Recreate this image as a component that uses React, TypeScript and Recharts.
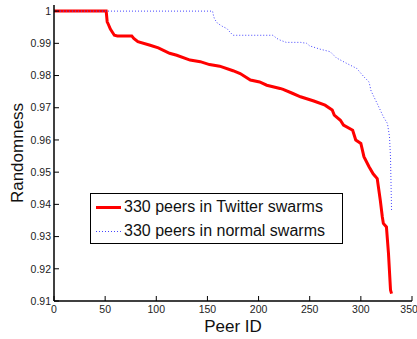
import React from "react";
import { LineChart, Line, XAxis, YAxis, Legend } from "recharts";

const twitterX = [0, 51, 52, 53, 55, 56, 59, 62, 76, 78, 82, 94, 102, 113, 120, 133, 143, 152, 162, 175, 182, 192, 201, 208, 221, 224, 233, 241, 254, 265, 272, 274, 280, 283, 292, 295, 300, 303, 308, 312, 316, 319, 321, 322, 325, 327, 329, 330];
const twitterY = [1, 1, 0.9967, 0.996, 0.9945, 0.994, 0.9925, 0.9923, 0.9923, 0.9915, 0.9905, 0.9894, 0.9886, 0.9869, 0.9863, 0.9848, 0.9843, 0.9834, 0.9829, 0.9815, 0.9806, 0.9786, 0.978, 0.977, 0.976, 0.9757, 0.9745, 0.9734, 0.9721, 0.9708, 0.9693, 0.9677, 0.9661, 0.9646, 0.963, 0.96, 0.9589, 0.9548, 0.9517, 0.9495, 0.948, 0.9413, 0.9361, 0.9341, 0.933, 0.9248, 0.9134, 0.9123];

const normalX = [0, 155, 156, 157, 160, 165, 169, 172, 175, 214, 218, 221, 227, 241, 247, 250, 260, 270, 276, 286, 296, 303, 308, 310, 316, 322, 326, 328, 329, 330];
const normalY = [1, 1, 0.9985, 0.9975, 0.9962, 0.9952, 0.9946, 0.9935, 0.9925, 0.9925, 0.9915, 0.991, 0.9903, 0.9903, 0.99, 0.9892, 0.9882, 0.9874, 0.9855, 0.9838, 0.9822, 0.9796, 0.978, 0.9752, 0.9713, 0.9672, 0.9651, 0.961, 0.9545, 0.9382];

const xTicks = [0, 50, 100, 150, 200, 250, 300, 350];
const yTicks = [0.91, 0.92, 0.93, 0.94, 0.95, 0.96, 0.97, 0.98, 0.99, 1];

const seriesNames = ["330 peers in Twitter swarms", "330 peers in normal swarms"];

const twitterData = twitterX.map((x, i) => ({ x, y: twitterY[i] }));
const normalData = normalX.map((x, i) => ({ x, y: normalY[i] }));

const FONT = "'Liberation Sans', Arial, sans-serif";
const tickStyle = { fontSize: 10.5, fill: "#222", fontFamily: FONT };

const LegendBox = () => (
  <div
    style={{
      border: "1px solid #000",
      background: "#fff",
      width: 251,
      height: 49,
      fontFamily: FONT,
      fontSize: 16,
      color: "#111",
      boxSizing: "content-box",
    }}
  >
    <div style={{ display: "flex", alignItems: "center", height: 24, marginTop: 1 }}>
      <svg width={33} height={24} style={{ display: "block" }}>
        <line x1={5} x2={30} y1={12.5} y2={12.5} stroke="#ff0000" strokeWidth={3} />
      </svg>
      <span style={{ whiteSpace: "nowrap" }}>{seriesNames[0]}</span>
    </div>
    <div style={{ display: "flex", alignItems: "center", height: 24 }}>
      <svg width={33} height={24} style={{ display: "block" }}>
        <line x1={5} x2={30} y1={12.5} y2={12.5} stroke="#4444ff" strokeWidth={1} strokeDasharray="1 2" />
      </svg>
      <span style={{ whiteSpace: "nowrap" }}>{seriesNames[1]}</span>
    </div>
  </div>
);

export default function App() {
  return (
    <div style={{ position: "absolute", left: 0, top: 0, width: 417, height: 339, background: "#fff", overflow: "hidden" }}>
      <LineChart width={417} height={339} margin={{ top: 5, right: 5, bottom: 0, left: 0 }}>
        <XAxis
          xAxisId="b"
          type="number"
          dataKey="x"
          domain={[0, 350]}
          ticks={xTicks}
          allowDataOverflow
          height={38}
          tick={tickStyle}
          tickSize={-5}
          tickMargin={10}
          axisLine={{ stroke: "#000", strokeWidth: 1.5 }}
          tickLine={{ stroke: "#000" }}
          label={{ value: "Peer ID", position: "insideBottom", offset: 7, fontSize: 17, fill: "#111", fontFamily: FONT }}
        />
        <XAxis
          xAxisId="t"
          orientation="top"
          type="number"
          dataKey="x"
          domain={[0, 350]}
          ticks={xTicks}
          allowDataOverflow
          height={0}
          tick={false}
          tickSize={-5}
          axisLine={{ stroke: "#000", strokeWidth: 1.5 }}
          tickLine={{ stroke: "#000" }}
        />
        <YAxis
          yAxisId="l"
          type="number"
          dataKey="y"
          domain={[0.91, 1.0019]}
          ticks={yTicks}
          allowDataOverflow
          width={54}
          tick={tickStyle}
          tickSize={-5}
          tickMargin={8}
          tickFormatter={(v: number) => (v === 1 ? "1" : v.toFixed(2))}
          axisLine={{ stroke: "#000", strokeWidth: 1.5 }}
          tickLine={{ stroke: "#000" }}
          label={{ value: "Randomness", angle: -90, position: "center", dx: -10.5, fontSize: 17, fill: "#111", fontFamily: FONT }}
        />
        <YAxis
          yAxisId="r"
          orientation="right"
          type="number"
          dataKey="y"
          domain={[0.91, 1.0019]}
          ticks={yTicks}
          allowDataOverflow
          width={0}
          tick={false}
          tickSize={-5}
          axisLine={{ stroke: "#000", strokeWidth: 1.5 }}
          tickLine={{ stroke: "#000" }}
        />
        <Legend
          layout="horizontal"
          verticalAlign="middle"
          align="center"
          content={() => <LegendBox />}
          wrapperStyle={{ position: "absolute", left: 90, top: 193, width: "auto", height: "auto" }}
        />
        <Line
          xAxisId="b"
          yAxisId="l"
          data={twitterData}
          dataKey="y"
          name={seriesNames[0]}
          type="linear"
          stroke="#ff0000"
          strokeWidth={3}
          dot={false}
          activeDot={false}
          isAnimationActive={false}
        />
        <Line
          xAxisId="b"
          yAxisId="l"
          data={normalData}
          dataKey="y"
          name={seriesNames[1]}
          type="linear"
          stroke="#4444ff"
          strokeWidth={1}
          strokeDasharray="1 2"
          dot={false}
          activeDot={false}
          isAnimationActive={false}
        />
      </LineChart>
    </div>
  );
}
